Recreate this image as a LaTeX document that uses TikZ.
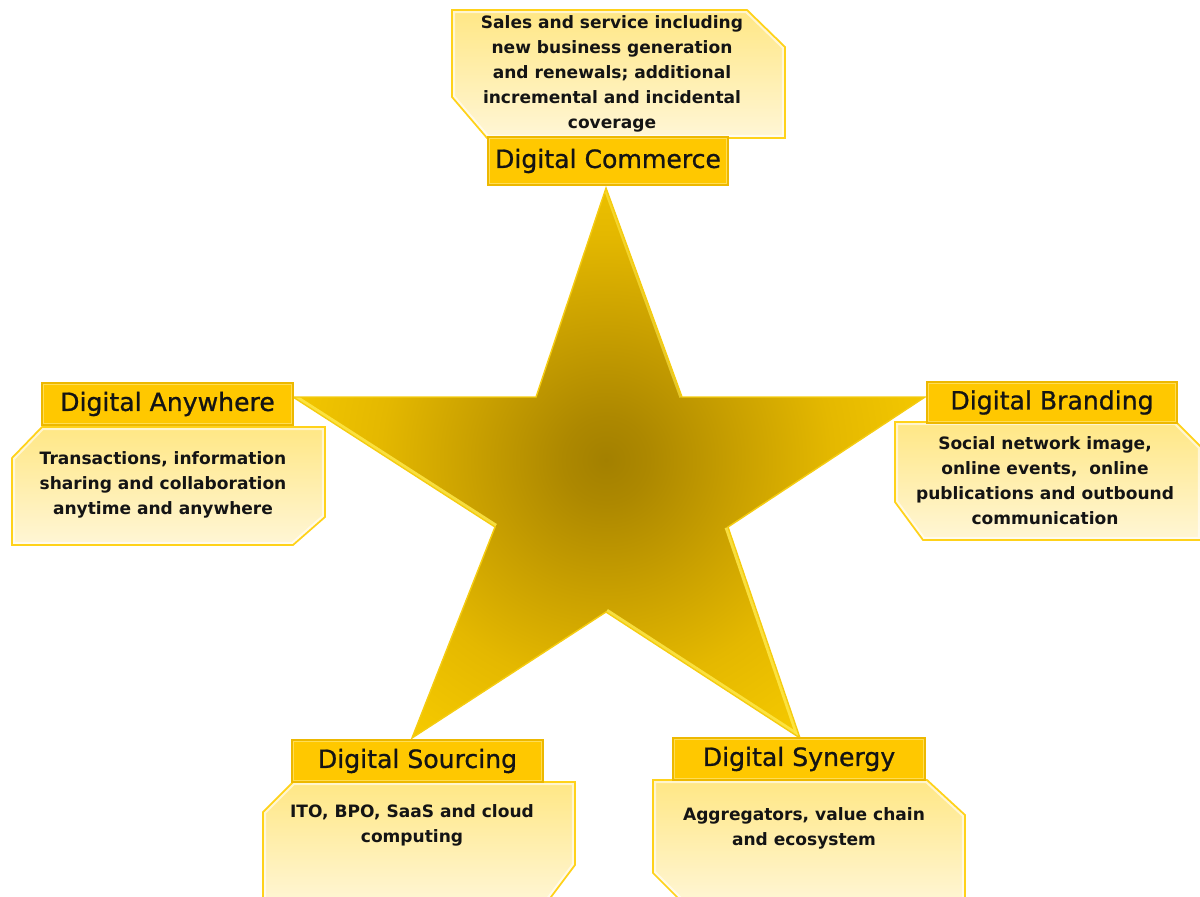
\documentclass[tikz,border=0pt]{standalone}
\usepackage{fontspec}
\setmainfont{DejaVu Sans}
\newfontface\headface[FakeBold=0.9]{DejaVu Sans}
\usetikzlibrary{calc}

\definecolor{titlegold}{HTML}{FFC800}
\definecolor{titleedge}{HTML}{EDB800}
\definecolor{titlehi}{HTML}{FFDD55}
\definecolor{desctop}{HTML}{FFE785}
\definecolor{descbot}{HTML}{FFF6D6}
\definecolor{descedge}{HTML}{FFD21A}
\definecolor{staredge}{HTML}{F5CC10}
\definecolor{starhi}{HTML}{FFE84A}
\definecolor{inkcol}{HTML}{141414}
\definecolor{stardark}{HTML}{A38000}
\definecolor{starmidA}{HTML}{AD8800}
\definecolor{starmidB}{HTML}{C9A000}
\definecolor{starmidC}{HTML}{E4B800}
\definecolor{starbright}{HTML}{F4C800}

% golden glow of the star, dark in the middle and bright at the tips
\pgfdeclareradialshading{starglow}{\pgfpoint{0bp}{0bp}}{%
  color(0bp)=(stardark); color(3bp)=(starmidA); color(9.3bp)=(starmidB);
  color(15.7bp)=(starmidC); color(22.6bp)=(starbright); color(50bp)=(starbright)}

% a note panel: gradient fill, soft inner rim, thin golden border
\newcommand\notepanel[1]{%
  \shade[top color=desctop, bottom color=descbot] #1;
  \begin{scope}
    \clip #1;
    \draw[white, opacity=0.6, line width=3.5pt] #1;
  \end{scope}
  \draw[descedge, line width=1pt, line join=miter] #1;
}

\tikzset{
  titlebox/.style={rectangle, inner sep=0pt, outer sep=0pt,
    fill=titlegold, draw=titleedge, line width=0.7pt, text=inkcol,
    font=\headface\fontsize{14.3}{16}\selectfont,
    path picture={\draw[titlehi, line width=2.4pt]
      (path picture bounding box.south west) rectangle
      (path picture bounding box.north east);}},
  desctext/.style={align=center, inner sep=0pt, text=inkcol,
    font=\bfseries\fontsize{9.7}{14.2}\selectfont},
}

\begin{document}
\begin{tikzpicture}[x=0.02cm, y=-0.02cm]
\useasboundingbox (0,0) rectangle (1200,896);
\clip (0,0) rectangle (1200,896);

% star vertices
\coordinate (sT)  at (606,188);
\coordinate (sIR) at (682,397);
\coordinate (sR)  at (925,397);
\coordinate (sLR) at (728,527);
\coordinate (sBR) at (800,738);
\coordinate (sIB) at (606,612);
\coordinate (sBL) at (412,738);
\coordinate (sLL) at (495,527);
\coordinate (sL)  at (293,397);
\coordinate (sIL) at (536,397);
\coordinate (sC)  at (606,460);

\begin{scope}
  \clip (sT) -- (sIR) -- (sR) -- (sLR) -- (sBR) -- (sIB)
    -- (sBL) -- (sLL) -- (sL) -- (sIL) -- cycle;
  \shade[shading=starglow] (sC) circle (360);
  \draw[starhi, line width=4pt, opacity=0.85] (sL) -- (sLL);
  \draw[starhi, line width=4pt, opacity=0.85] (sIB) -- (sBR);
  \draw[starhi, line width=4pt, opacity=0.85] (sLR) -- (sBR);
  \draw[starhi, line width=3pt, opacity=0.6] (sT) -- (sIR);
\end{scope}
\draw[staredge, line width=0.8pt, line join=miter] (sT) -- (sIR) -- (sR)
  -- (sLR) -- (sBR) -- (sIB) -- (sBL) -- (sLL) -- (sL) -- (sIL) -- cycle;

% note panels
\notepanel{(452,10) -- (747,10) -- (785,47) -- (785,138) -- (487,138) -- (452,97) -- cycle}
\notepanel{(42,427) -- (325,427) -- (325,517) -- (293,545) -- (12,545) -- (12,458) -- cycle}
\notepanel{(895,422) -- (1176,422) -- (1201,447) -- (1201,540) -- (923,540) -- (895,502) -- cycle}
\notepanel{(293,782) -- (575,782) -- (575,865) -- (545,905) -- (263,905) -- (263,812) -- cycle}
\notepanel{(653,780) -- (927,780) -- (965,815) -- (965,905) -- (685,905) -- (653,873) -- cycle}

\node[desctext] (commercetext) at (612,74)
  {Sales and service including\\new business generation\\and renewals; additional\\incremental and incidental\\coverage};
\node[desctext] (anywheretext) at (163,485)
  {Transactions, information\\sharing and collaboration\\anytime and anywhere};
\node[desctext] (brandingtext) at (1045,481)
  {Social network image,\\online events,\ \ online\\publications and outbound\\communication};
\node[desctext] (sourcingtext) at (412,825)
  {ITO, BPO, SaaS and cloud\\computing};
\node[desctext] (synergytext) at (804,828)
  {Aggregators, value chain\\and ecosystem};

% headings
\node[titlebox, minimum width=4.8cm,  minimum height=0.96cm] (commerce) at (608,161)   {Digital Commerce};
\node[titlebox, minimum width=5.02cm, minimum height=0.84cm] (anywhere) at (167.5,404) {Digital Anywhere};
\node[titlebox, minimum width=5.0cm,  minimum height=0.82cm] (branding) at (1052,402.5) {Digital Branding};
\node[titlebox, minimum width=5.02cm, minimum height=0.84cm] (sourcing) at (417.5,761) {Digital Sourcing};
\node[titlebox, minimum width=5.04cm, minimum height=0.84cm] (synergy)  at (799,759)   {Digital Synergy};
\end{tikzpicture}
\end{document}
